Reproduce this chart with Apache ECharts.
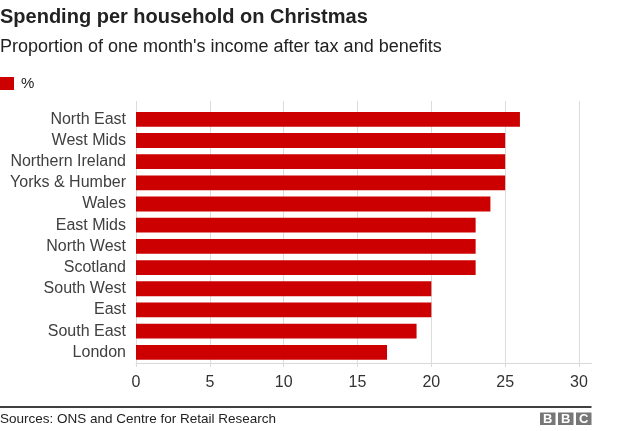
<!DOCTYPE html>
<html>
<head>
<meta charset="utf-8">
<script src="https://cdn.jsdelivr.net/npm/echarts@6/dist/echarts.min.js"></script>
<style>
html,body{margin:0;padding:0;background:#fff;}
#main{width:624px;height:431px;}
</style>
</head>
<body>
<div id="main"></div>
<script>
const categories = ["North East","West Mids","Northern Ireland","Yorks & Humber","Wales","East Mids","North West","Scotland","South West","East","South East","London"];
const values = [26,25,25,25,24,23,23,23,20,20,19,17];
const seriesName = "%";
const titleText = "Spending per household on Christmas";
const subtitleText = "Proportion of one month's income after tax and benefits";
const sourceText = "Sources: ONS and Centre for Retail Research";

const FONT = '"Liberation Sans", Arial, Helvetica, sans-serif';
const chart = echarts.init(document.getElementById('main'), null, {renderer:'canvas'});
chart.setOption({
  animation:false,
  backgroundColor:'#fff',
  textStyle:{fontFamily:FONT},
  title:[
    {text:titleText,left:0,top:7,padding:0,textStyle:{fontFamily:FONT,fontSize:20,fontWeight:'bold',color:'#222'}},
    {text:subtitleText,left:0,top:38,padding:0,textStyle:{fontFamily:FONT,fontSize:18,fontWeight:'normal',color:'#222'}},
    {text:sourceText,left:0,top:412,padding:0,textStyle:{fontFamily:FONT,fontSize:13.5,fontWeight:'normal',color:'#222'}}
  ],
  legend:{
    left:0,top:76,padding:0,itemWidth:14,itemHeight:13,itemGap:10,icon:'rect',
    textStyle:{fontFamily:FONT,fontSize:15,color:'#222',padding:[0,0,0,2]},
    data:[seriesName]
  },
  grid:[
    {left:136,right:45,top:108.7,bottom:68.1},
    {left:136,right:45,top:101,bottom:68.1},
    {left:136,right:32.5,top:101,bottom:68.1}
  ],
  xAxis:[
    {gridIndex:0,type:'value',min:0,max:30,interval:5,
     axisLine:{show:false},
     axisTick:{show:true,length:4,lineStyle:{color:'#d9d9d9'}},
     axisLabel:{fontFamily:FONT,fontSize:16,color:'#333',margin:12},
     splitLine:{show:false}},
    {gridIndex:1,type:'value',min:0,max:30,interval:5,
     axisLine:{show:false},axisTick:{show:false},axisLabel:{show:false},
     splitLine:{show:true,lineStyle:{color:'#dcdcdc',width:1}}},
    {gridIndex:2,type:'value',min:0,max:30,interval:5,
     axisLine:{show:true,lineStyle:{color:'#d9d9d9',width:1}},axisTick:{show:false},axisLabel:{show:false},
     splitLine:{show:false}}
  ],
  yAxis:[
    {gridIndex:0,type:'category',data:categories,inverse:true,
     axisLine:{show:false},axisTick:{show:false},
     axisLabel:{fontFamily:FONT,fontSize:16,color:'#404040',margin:10}},
    {gridIndex:1,type:'value',show:false},
    {gridIndex:2,type:'value',show:false}
  ],
  series:[
    {name:seriesName,type:'bar',xAxisIndex:0,yAxisIndex:0,data:values,
     barCategoryGap:'30%',itemStyle:{color:'#cc0000'}}
  ],
  graphic:[
    {type:'line',shape:{x1:0,y1:407,x2:591.5,y2:407},style:{stroke:'#000',lineWidth:1.5}},
    {type:'rect',shape:{x:540,y:412.5,width:15.5,height:12.5},style:{fill:'#777'}},
    {type:'rect',shape:{x:558,y:412.5,width:15.5,height:12.5},style:{fill:'#777'}},
    {type:'rect',shape:{x:576,y:412.5,width:15.5,height:12.5},style:{fill:'#777'}},
    {type:'text',x:547.75,y:419,style:{text:'B',fill:'#fff',font:'bold 13px '+FONT,align:'center',verticalAlign:'middle'}},
    {type:'text',x:565.75,y:419,style:{text:'B',fill:'#fff',font:'bold 13px '+FONT,align:'center',verticalAlign:'middle'}},
    {type:'text',x:583.75,y:419,style:{text:'C',fill:'#fff',font:'bold 13px '+FONT,align:'center',verticalAlign:'middle'}}
  ]
});
</script>
</body>
</html>
